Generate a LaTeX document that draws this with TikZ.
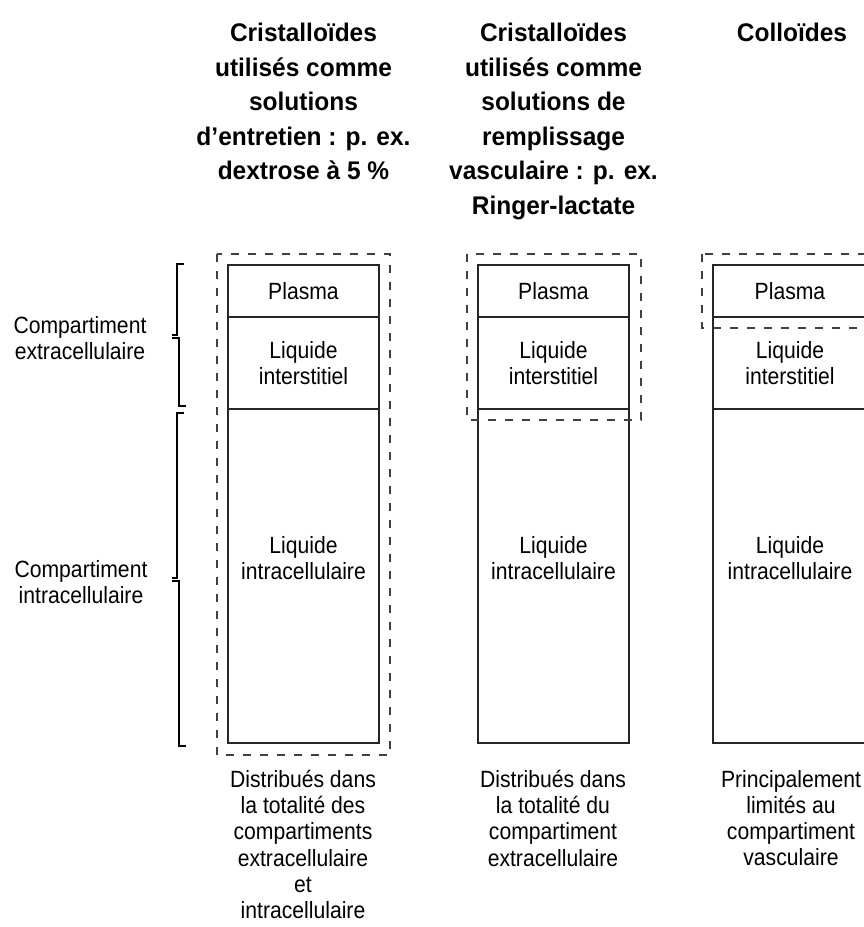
\documentclass[tikz,border=0pt]{standalone}
\usepackage{fontspec}
\setmainfont{Liberation Sans}
\newfontfamily\bodyfont{Liberation Sans}[FakeStretch=0.9]
\newfontfamily\headfont{Liberation Sans}[FakeStretch=0.96]
\begin{document}
\begin{tikzpicture}[x=1pt,y=-1pt,
  box/.style={draw=black!85, line width=1.2pt},
  dashbox/.style={draw=black!75, line width=1.2pt, dash pattern=on 8pt off 9pt},
  bracket/.style={draw=black, line width=2pt},
  head/.style={font=\headfont\bfseries\fontsize{25.5}{34.5}\selectfont, align=center, anchor=north, inner sep=0pt},
  lbl/.style={font=\bodyfont\fontsize{23.5}{26.6}\selectfont, align=center, inner sep=0pt},
  captext/.style={font=\bodyfont\fontsize{23.5}{26.2}\selectfont, align=center, inner sep=0pt, anchor=north},
]
\useasboundingbox (0,0) rectangle (864,927);
\clip (0,0) rectangle (864,927);

% headers
\node[head] (h1) at (303.5,23) {Cristalloïdes\\utilisés comme\\solutions\\d’entretien : p. ex.\\dextrose à 5~\%};
\node[head] (h2) at (553.5,23) {Cristalloïdes\\utilisés comme\\solutions de\\remplissage\\vasculaire : p. ex.\\Ringer-lactate};
\node[head] (h3) at (792,23) {Colloïdes};

% column 1
\draw[box] (228,265) rectangle (379,743);
\draw[box] (228,317) -- (379,317);
\draw[box] (228,409) -- (379,409);
\draw[dashbox] (217,254) rectangle (390,755);

% column 2
\draw[box] (478,265) rectangle (629,743);
\draw[box] (478,317) -- (629,317);
\draw[box] (478,409) -- (629,409);
\draw[dashbox] (467,254) rectangle (641,420);

% column 3
\draw[box] (713,265) rectangle (867,743);
\draw[box] (713,317) -- (867,317);
\draw[box] (713,409) -- (867,409);
\draw[dashbox] (702,254) rectangle (880,328);

% box labels
\node[lbl, anchor=base] (p1) at (303.5,299) {Plasma};
\node[lbl, anchor=base] (p2) at (553.5,299) {Plasma};
\node[lbl, anchor=base] (p3) at (790,299) {Plasma};
\node[lbl, anchor=north] (i1) at (303.5,341) {Liquide\\interstitiel};
\node[lbl, anchor=north] (i2) at (553.5,341) {Liquide\\interstitiel};
\node[lbl, anchor=north] (i3) at (790,341) {Liquide\\interstitiel};
\node[lbl, anchor=north] (c1) at (303.5,536) {Liquide\\intracellulaire};
\node[lbl, anchor=north] (c2) at (553.5,536) {Liquide\\intracellulaire};
\node[lbl, anchor=north] (c3) at (790,536) {Liquide\\intracellulaire};

% brackets
\draw[bracket] (184,264) -- (177,264) -- (177,335) -- (172,335);
\draw[bracket] (172,338) -- (179,338) -- (179,406) -- (186,406);
\draw[bracket] (184,413) -- (177,413) -- (177,578) -- (172,578);
\draw[bracket] (172,581) -- (179,581) -- (179,746) -- (186,746);

% side labels
\node[lbl, anchor=north] (ex) at (80,316) {Compartiment\\extracellulaire};
\node[lbl, anchor=north] (in) at (81,560) {Compartiment\\intracellulaire};

% bottom captions
\node[captext] (b1) at (303,770) {Distribués dans\\la totalité des\\compartiments\\extracellulaire\\et\\intracellulaire};
\node[captext] (b2) at (553,770) {Distribués dans\\la totalité du\\compartiment\\extracellulaire};
\node[captext] (b3) at (791,770) {Principalement\\limités au\\compartiment\\vasculaire};
\end{tikzpicture}
\end{document}
